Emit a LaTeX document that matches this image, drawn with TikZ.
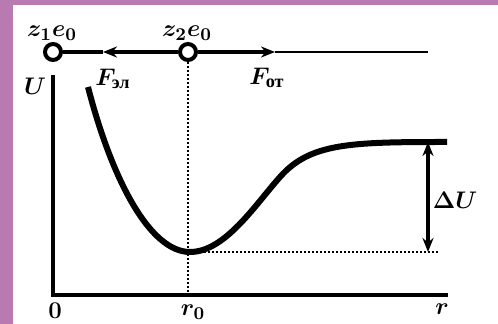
\documentclass[tikz,border=0pt]{standalone}
\usepackage{fontspec}
\setmainfont{Liberation Serif}
\usepackage{amsmath}
\usepackage{xcolor}
\usetikzlibrary{positioning, arrows.meta}
\definecolor{bgpink}{RGB}{184,122,176}

\begin{document}
\begin{tikzpicture}[
    x=0.5pt, y=-0.5pt,
    charge/.style={draw, circle, line width=2pt, fill=white, minimum size=8pt, inner sep=0pt},
    axis/.style={line width=1.8pt},
    guide/.style={dash pattern=on 1pt off 1pt, line width=1.2pt},
    force/.style={line width=2pt, -{Stealth[length=7pt, width=5.5pt]}},
    curve/.style={line width=3pt},
    lbl/.style={font=\fontsize{13}{15}\selectfont\boldmath, inner sep=0pt},
]
% background frame
\fill[bgpink] (0, 0) rectangle (498, 324);
\fill[white] (13, 5) rectangle (498, 324);

% charges on the line
\node[charge] (q1) at (53, 52) {};
\node[charge] (q2) at (188, 52) {};
\coordinate (fel) at (103, 52);
\coordinate (fot) at (275, 52);
\coordinate (lineend) at (428, 52);

\draw[line width=2pt] (q1) -- (fel);
\draw[force] (q2) -- (fel);
\draw[force] (q2) -- (fot);
\draw[line width=1.3pt] (fot) -- (lineend);

\node[lbl] (z1) at (52, 33) {$z_1e_0$};
\node[lbl] (z2) at (187, 33) {$z_2e_0$};
\node[lbl] (Fel) at (113, 79) {$F_{\textbf{эл}}$};
\node[lbl] (Fot) at (267, 78) {$F_{\textbf{от}}$};

% axes
\coordinate (origin) at (53, 295);
\coordinate (ytop) at (53, 75);
\coordinate (xend) at (448, 295);
\coordinate (r0) at (188, 295);
\draw[axis] (ytop) -- (origin) -- (xend);

\node[lbl] (U) at (35, 86) {$U$};
\node[lbl] (zero) at (55, 311) {$0$};
\node[lbl] (r0lbl) at (193, 312) {$r_0$};
\node[lbl] (rlbl) at (442, 309) {$r$};

% potential curve
\draw[curve] (88, 87) .. controls (112, 180) and (150, 252) .. (190, 252)
    .. controls (225, 252) and (255, 205) .. (280, 177)
    .. controls (310, 143) and (350, 142) .. (447, 142);

% guides
\coordinate (umin) at (192, 252);
\coordinate (dUbot) at (440, 252);
\draw[guide] (q2) -- (r0);
\draw[guide] (umin) -- (dUbot);

% depth of the well
\coordinate (dUtop) at (428, 142);
\coordinate (dUlow) at (428, 252);
\draw[line width=1.6pt, {Stealth[length=7pt, width=5.5pt]}-{Stealth[length=7pt, width=5.5pt]}] (dUtop) -- (dUlow);
\node[lbl] (dU) at (455, 200) {$\Delta U$};
\end{tikzpicture}
\end{document}
